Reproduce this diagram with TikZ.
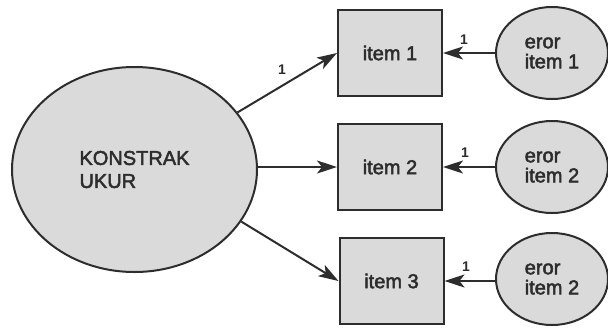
\documentclass[tikz,border=0pt]{standalone}
\usepackage{fontspec}
\setmainfont{Liberation Sans}
\newfontface\heavy{Liberation Sans}[FakeBold=2.5]
\usetikzlibrary{shapes.geometric,arrows.meta}
\definecolor{shade}{RGB}{218,218,218}
\definecolor{ink}{RGB}{45,45,45}
\tikzset{
  latent/.style={ellipse, draw=ink, fill=shade, line width=2pt, inner sep=0pt, text=ink},
  observed/.style={rectangle, draw=ink, fill=shade, line width=2pt,
    minimum width=104pt, minimum height=86pt, inner sep=0pt, text=ink,
    font=\heavy\fontsize{20}{20}\selectfont},
  errorvar/.style={latent, minimum width=112pt, minimum height=92pt, align=left,
    font=\heavy\fontsize{20}{20}\selectfont},
  loading/.style={draw=ink, line width=2pt, -{Stealth[length=20pt,width=13pt,inset=5pt]}},
  weight/.style={font=\fontsize{14}{14}\selectfont\bfseries, text=ink, inner sep=0pt}
}
\begin{document}
\begin{tikzpicture}[x=1pt,y=-1pt]
  \useasboundingbox (0,0) rectangle (608,327);

  % latent construct
  \node[latent, minimum width=245pt, minimum height=205pt, align=left,
        font=\heavy\fontsize{20}{23}\selectfont] (K) at (134.5,169.5) {KONSTRAK\\UKUR};

  % indicators
  \node[observed] (B1) at (390,53)  {item 1};
  \node[observed] (B2) at (390,167) {item 2};
  \node[observed] (B3) at (391.5,281) {item 3};

  % error terms
  \node[errorvar] (E1) at (552,53)  {eror\\item 1};
  \node[errorvar] (E2) at (552,167) {eror\\item 2};
  \node[errorvar] (E3) at (552,279) {eror\\item 2};

  % factor loadings
  \draw[loading] (K.29) -- (B1.west);
  \draw[loading] (K.east |- B2) -- (B2.west);
  \draw[loading] (K.-26) -- (B3.west);
  \node[weight] (w1) at (282,70) {1};

  % error paths
  \draw[loading] (E1.west) -- (B1.east);
  \draw[loading] (E2.west) -- (B2.east);
  \draw[loading] (E3.west |- B3) -- (B3.east);
  \node[weight] (w2) at (464,40)  {1};
  \node[weight] (w3) at (465,153) {1};
  \node[weight] (w4) at (466,267) {1};
\end{tikzpicture}
\end{document}
